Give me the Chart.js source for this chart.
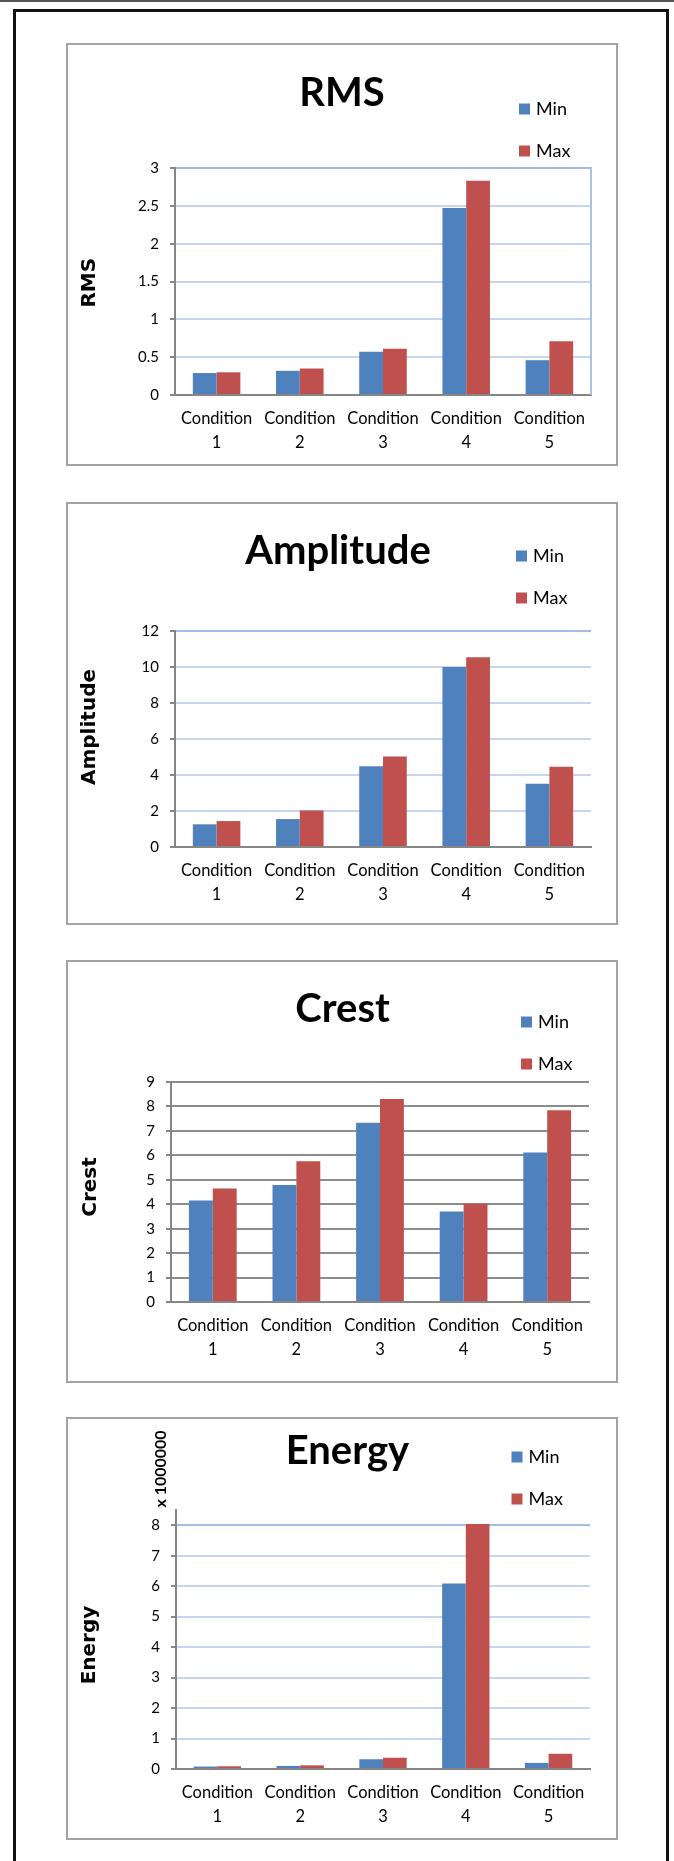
<!DOCTYPE html>
<html>
<head>
<meta charset="utf-8">
<script src="https://cdn.jsdelivr.net/npm/chart.js@4.4.1/dist/chart.umd.min.js"></script>
<style>
  html, body { margin: 0; padding: 0; background: #fff; width: 674px; height: 1861px; overflow: hidden; }
  .rule  { position: absolute; left: 0; top: 0; width: 674px; height: 2px; background: #555; }
  .frame { position: absolute; left: 13px; top: 9px; width: 650px; height: 1900px; border: 3px solid #111; border-bottom: none; }
  .panel { position: absolute; left: 66px; width: 548px; height: 419px; border: 2px solid #a3a3a3; background: #fff; }
  .panel canvas { position: absolute; left: 0; top: 0; }
</style>
</head>
<body>
<div class="rule"></div>
<div class="frame"></div>
<div class="panel" style="top:43px"><canvas id="rmsChart" width="548" height="419"></canvas></div>
<div class="panel" style="top:502px"><canvas id="ampChart" width="548" height="419"></canvas></div>
<div class="panel" style="top:960px"><canvas id="crestChart" width="548" height="419"></canvas></div>
<div class="panel" style="top:1417px"><canvas id="energyChart" width="548" height="419"></canvas></div>

<script>
// ---- data ----
const conditions = [['Condition', '1'], ['Condition', '2'], ['Condition', '3'], ['Condition', '4'], ['Condition', '5']];
const seriesNames = ['Min', 'Max'];

const rmsMin = [0.29, 0.32, 0.57, 2.47, 0.46];
const rmsMax = [0.30, 0.35, 0.61, 2.83, 0.71];
const rmsTicks = [0, 0.5, 1, 1.5, 2, 2.5, 3];

const ampMin = [1.26, 1.55, 4.49, 10.0, 3.51];
const ampMax = [1.44, 2.03, 5.03, 10.54, 4.46];
const ampTicks = [0, 2, 4, 6, 8, 10, 12];

const crestMin = [4.15, 4.79, 7.33, 3.70, 6.12];
const crestMax = [4.64, 5.76, 8.30, 4.02, 7.84];
const crestTicks = [0, 1, 2, 3, 4, 5, 6, 7, 8, 9];

const energyMin = [80000, 100000, 320000, 6090000, 200000];
const energyMax = [90000, 120000, 370000, 8040000, 500000];
const energyTicks = [0, 1000000, 2000000, 3000000, 4000000, 5000000, 6000000, 7000000, 8000000];
const energyUnit = 1000000;

// ---- styling ----
const seriesColors = ['#4F81BD', '#C0504D'];
const axisGray = '#868686';
const W = 548, H = 419;
const TITLE_SIZE = 40, TITLE_LH = TITLE_SIZE * 1.2;

// legend, axis title and plot-frame details drawn on top of each panel
const panelDecor = {
  id: 'panelDecor',
  afterDraw(chart, args, o) {
    const ctx = chart.ctx;
    const area = chart.chartArea;
    ctx.save();
    if (o.rightEdge) {
      ctx.strokeStyle = o.rightEdge;
      ctx.lineWidth = 2;
      ctx.beginPath();
      ctx.moveTo(area.right, area.top - 1);
      ctx.lineTo(area.right, area.bottom);
      ctx.stroke();
    }
    // legend
    ctx.font = '18px Lato';
    ctx.textBaseline = 'middle';
    ctx.textAlign = 'left';
    chart.data.datasets.forEach((ds, i) => {
      const y = o.legendY + i * 42;
      ctx.fillStyle = ds.backgroundColor;
      ctx.fillRect(o.legendX, y - 5.5, 11, 11);
      ctx.fillStyle = '#000';
      ctx.fillText(ds.label, o.legendX + 17, y);
    });
    // vertical axis title
    ctx.save();
    ctx.translate(o.axisTitleX, o.axisTitleY);
    ctx.rotate(-Math.PI / 2);
    ctx.textAlign = 'center';
    ctx.font = 'bold 20px "DejaVu Sans"';
    ctx.fillText(o.axisTitle, 0, 0);
    ctx.restore();
    if (o.unitLabel) {
      ctx.save();
      ctx.translate(o.unitX, o.unitY);
      ctx.rotate(-Math.PI / 2);
      ctx.textAlign = 'center';
      ctx.font = 'bold 16px Lato';
      ctx.fillText(o.unitLabel, 0, 0);
      ctx.restore();
    }
    ctx.restore();
  }
};

function buildPanel(id, cfg) {
  const g = cfg.frame;
  const padRight = W - g.right;
  const padLeft = 2 * g.titleX - W + padRight;
  const titleTop = g.titleY - TITLE_LH / 2;
  return new Chart(document.getElementById(id), {
    type: 'bar',
    data: {
      labels: conditions,
      datasets: cfg.series.map((vals, i) => ({
        label: seriesNames[i],
        data: vals,
        backgroundColor: seriesColors[i],
        borderWidth: 0,
        categoryPercentage: 2 / 3.5,
        barPercentage: 1
      }))
    },
    options: {
      responsive: false,
      animation: false,
      devicePixelRatio: 1,
      layout: { padding: { left: padLeft, right: padRight, top: 0, bottom: 0 } },
      plugins: {
        legend: { display: false },
        tooltip: { enabled: false },
        title: {
          display: true,
          text: cfg.title,
          color: '#000',
          font: { family: 'Lato', weight: 'bold', size: TITLE_SIZE, lineHeight: 1.2 },
          padding: { top: titleTop, bottom: g.top - titleTop - TITLE_LH }
        },
        panelDecor: cfg.decor
      },
      scales: {
        x: {
          grid: { display: false, drawTicks: false },
          border: { color: axisGray, width: 2 },
          ticks: {
            color: '#000', padding: 12, maxRotation: 0, autoSkip: false,
            font: { family: 'Lato', size: 16.5, lineHeight: 1.43 }
          },
          afterFit: s => { s.height = H - g.bottom; }
        },
        y: {
          min: cfg.min,
          max: cfg.max,
          afterBuildTicks: s => { s.ticks = cfg.ticks.map(v => ({ value: v })); },
          ticks: {
            color: '#000', padding: 11,
            font: { family: 'Lato', size: 15 },
            callback: cfg.tickText
          },
          grid: {
            color: cfg.gridColor,
            lineWidth: 2,
            drawTicks: true,
            tickLength: 5,
            tickColor: axisGray,
            tickWidth: 2
          },
          border: { color: axisGray, width: 2 },
          afterFit: s => { s.width = g.left - padLeft; }
        }
      }
    },
    plugins: [panelDecor]
  });
}

function blueGrid(top) {
  return ctx => (ctx.tick && ctx.tick.value === top) ? '#a3bce2' : '#c6d6ee';
}

function drawAll() {
  buildPanel('rmsChart', {
    title: 'RMS',
    series: [rmsMin, rmsMax],
    min: 0, max: 3, ticks: rmsTicks,
    tickText: v => String(v),
    gridColor: blueGrid(3),
    frame: { left: 107, right: 523, top: 123, bottom: 350, titleX: 274, titleY: 48.3 },
    decor: { legendX: 451, legendY: 64, axisTitle: 'RMS', axisTitleX: 22, axisTitleY: 237.7, rightEdge: '#a9c0e3' }
  });
  buildPanel('ampChart', {
    title: 'Amplitude',
    series: [ampMin, ampMax],
    min: 0, max: 12, ticks: ampTicks,
    tickText: v => String(v),
    gridColor: blueGrid(12),
    frame: { left: 107, right: 523, top: 127, bottom: 343, titleX: 270, titleY: 46.8 },
    decor: { legendX: 448, legendY: 52, axisTitle: 'Amplitude', axisTitleX: 22, axisTitleY: 223 }
  });
  buildPanel('crestChart', {
    title: 'Crest',
    series: [crestMin, crestMax],
    min: 0, max: 9, ticks: crestTicks,
    tickText: v => String(v),
    gridColor: '#8c8c8c',
    frame: { left: 103, right: 521, top: 120, bottom: 340, titleX: 274.6, titleY: 47 },
    decor: { legendX: 453, legendY: 60, axisTitle: 'Crest', axisTitleX: 23, axisTitleY: 225 }
  });
  buildPanel('energyChart', {
    title: 'Energy',
    series: [energyMin, energyMax],
    min: 0, max: 8.5 * energyUnit, ticks: energyTicks,
    tickText: v => String(v / energyUnit),
    gridColor: blueGrid(8 * energyUnit),
    frame: { left: 108, right: 522, top: 91, bottom: 350, titleX: 279.4, titleY: 31.8 },
    decor: { legendX: 443.5, legendY: 38, axisTitle: 'Energy', axisTitleX: 22, axisTitleY: 226,
             unitLabel: 'x 1000000', unitX: 93, unitY: 50 }
  });
}

const fontLoads = ['bold 40px Lato', '16px Lato', 'bold 16px Lato', 'bold 20px "DejaVu Sans"']
  .map(f => document.fonts.load(f).catch(() => null));
Promise.all(fontLoads).then(drawAll, drawAll);
</script>
</body>
</html>
